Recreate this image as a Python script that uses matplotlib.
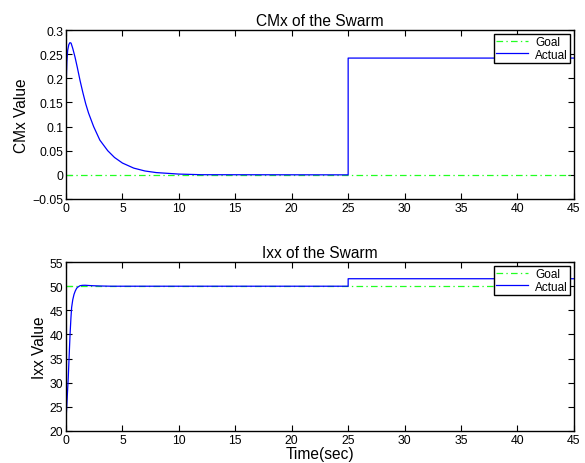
import matplotlib.pyplot as plt

plt.rcParams['font.family'] = ['Liberation Sans', 'DejaVu Sans']

# CMx of the swarm: transient after start, step at t=25
cmx_t = [0, 0.02, 0.08, 0.15, 0.25, 0.35, 0.45, 0.6, 0.8, 1.0, 1.25, 1.5, 1.75,
         2.0, 2.45, 3.0, 3.7, 4.3, 5.0, 6.0, 7.0, 8.0, 10.0, 12.0, 25.0, 25.0, 45.0]
cmx_actual = [0.14, 0.19, 0.235, 0.258, 0.270, 0.274, 0.273, 0.262, 0.244, 0.223,
              0.195, 0.170, 0.147, 0.128, 0.100, 0.072, 0.050, 0.036, 0.0245,
              0.014, 0.008, 0.0047, 0.0016, 0.0003, 0.0, 0.242, 0.242]
cmx_goal_t = [0, 45]
cmx_goal = [0, 0]

# Ixx of the swarm
ixx_t = [0, 0.03, 0.06, 0.12, 0.2, 0.28, 0.36, 0.44, 0.5, 0.6, 0.71, 0.82, 0.95,
         1.1, 1.24, 1.45, 1.7, 2.0, 2.4, 3.0, 4.0, 25.0, 25.0, 45.0]
ixx_actual = [22.6, 23.5, 24.7, 27.5, 31.0, 35.5, 40.0, 43.5, 45.6, 47.2, 48.3,
              49.0, 49.6, 49.9, 50.1, 50.18, 50.2, 50.15, 50.1, 50.05, 50.0,
              50.0, 51.55, 51.55]
ixx_goal_t = [0, 45]
ixx_goal = [50, 50]

xticks = list(range(0, 50, 5))
goal_color = '#22ff22'
actual_color = '#0000ff'
goal_dash = (0, (5.3, 2.6, 1.1, 2.6))

fig = plt.figure(figsize=(5.85, 4.64), dpi=100)
ax1 = fig.add_axes([0.1128, 0.569, 0.8682, 0.364])
ax2 = fig.add_axes([0.1128, 0.069, 0.8682, 0.364])


def style(ax, title, ylabel, ylim, yticks, yticklabels):
    ax.set_xlim(0, 45)
    ax.set_ylim(*ylim)
    ax.set_xticks(xticks)
    ax.set_yticks(yticks)
    ax.set_yticklabels(yticklabels)
    ax.tick_params(direction='in', top=True, right=True, length=4,
                   width=0.8, labelsize=8.8, pad=2)
    for sp in ax.spines.values():
        sp.set_linewidth(1.0)
    ax.set_title(title, fontsize=11.2, pad=4)
    ax.set_ylabel(ylabel, fontsize=11.2, labelpad=2)
    leg = ax.legend(loc='upper right', fontsize=8.5, fancybox=False,
                    framealpha=1, edgecolor='black', borderpad=0.2,
                    labelspacing=0.05, handlelength=2.7, handletextpad=0.6,
                    borderaxespad=0.3)
    leg.get_frame().set_linewidth(1.0)


ax1.plot(cmx_goal_t, cmx_goal, color=goal_color, linestyle=goal_dash, lw=0.9, label='Goal')
ax1.plot(cmx_t, cmx_actual, color=actual_color, lw=0.9, label='Actual')
style(ax1, 'CMx of the Swarm', 'CMx Value', (-0.05, 0.3),
      [-0.05, 0, 0.05, 0.1, 0.15, 0.2, 0.25, 0.3],
      ['\u22120.05', '0', '0.05', '0.1', '0.15', '0.2', '0.25', '0.3'])

ax2.plot(ixx_goal_t, ixx_goal, color=goal_color, linestyle=goal_dash, lw=0.9, label='Goal')
ax2.plot(ixx_t, ixx_actual, color=actual_color, lw=0.9, label='Actual')
style(ax2, 'Ixx of the Swarm', 'Ixx Value', (20, 55),
      [20, 25, 30, 35, 40, 45, 50, 55],
      ['20', '25', '30', '35', '40', '45', '50', '55'])
ax2.set_xlabel('Time(sec)', fontsize=11.2, labelpad=0)

fig.savefig('out.png', dpi=100)
